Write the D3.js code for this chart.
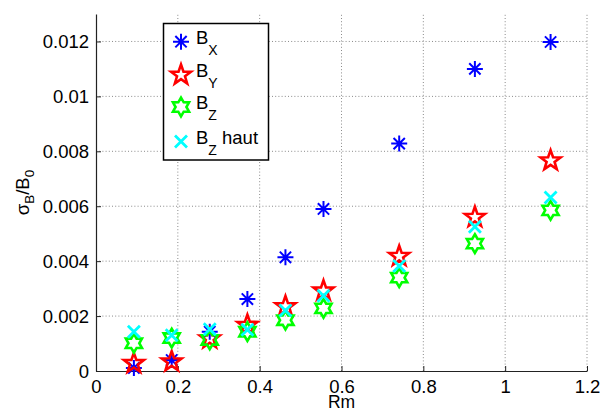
<!DOCTYPE html>
<html>
<head>
<meta charset="utf-8">
<script src="https://cdn.jsdelivr.net/npm/d3@7"></script>
<style>
  html, body { margin: 0; padding: 0; background: #fff; }
  svg { display: block; font-family: "Liberation Sans", Arial, Helvetica, sans-serif; }
</style>
</head>
<body>
<svg id="chart" width="602" height="411"></svg>
<script>
// ---- data ----
const rm = [0.0926, 0.185, 0.278, 0.370, 0.463, 0.556, 0.741, 0.926, 1.111];
const bx = [0.00011, 0.00040, 0.00143, 0.00262, 0.00414, 0.00590, 0.00828, 0.01100, 0.01198];
const by = [0.00028, 0.00034, 0.00118, 0.00167, 0.00235, 0.00292, 0.00418, 0.00560, 0.00766];
const bz = [0.00101, 0.00120, 0.00113, 0.00143, 0.00185, 0.00228, 0.00340, 0.00464, 0.00585];
const bzh = [0.00143, 0.00130, 0.00152, 0.00150, 0.00220, 0.00274, 0.00382, 0.00525, 0.00632];
const xTicks = [0, 0.2, 0.4, 0.6, 0.8, 1.0, 1.2];
const xTickLabels = ["0", "0.2", "0.4", "0.6", "0.8", "1", "1.2"];
const yTicks = [0, 0.002, 0.004, 0.006, 0.008, 0.010, 0.012];
const yTickLabels = ["0", "0.002", "0.004", "0.006", "0.008", "0.01", "0.012"];
const seriesNames = ["X", "Y", "Z", "Z"];
const seriesSuffix = ["", "", "", " haut"];
const xDomain = [0, 1.2];
const yDomain = [0, 0.013];

// ---- layout ----
const L = 96, R = 587, T = 14, B = 371;
const svg = d3.select("#chart");
const x = d3.scaleLinear().domain(xDomain).range([L, R]);
const y = d3.scaleLinear().domain(yDomain).range([B, T]);

// grid
const grid = svg.append("g");
grid.selectAll("line.vx").data(xTicks.filter(d => d > 0)).enter().append("line")
  .attr("x1", d => x(d)).attr("x2", d => x(d)).attr("y1", B).attr("y2", T)
  .attr("stroke", "#8a8a8a").attr("stroke-width", 1).attr("stroke-dasharray", "1,2.2");
grid.selectAll("line.hy").data(yTicks.filter(d => d > 0)).enter().append("line")
  .attr("y1", d => y(d)).attr("y2", d => y(d)).attr("x1", L).attr("x2", R)
  .attr("stroke", "#8a8a8a").attr("stroke-width", 1).attr("stroke-dasharray", "1,2.2");

// axes
const xAxis = d3.axisBottom(x).tickValues(xTicks).tickFormat((d, i) => xTickLabels[i])
  .tickSizeInner(-5).tickSizeOuter(0).tickPadding(12);
const yAxis = d3.axisLeft(y).tickValues(yTicks).tickFormat((d, i) => yTickLabels[i])
  .tickSizeInner(-5).tickSizeOuter(0).tickPadding(12);
const gx = svg.append("g").attr("transform", `translate(0,${B})`).call(xAxis);
const gy = svg.append("g").attr("transform", `translate(${L},0)`).call(yAxis);
[gx, gy].forEach(g => {
  g.select(".domain").attr("stroke", "#222").attr("stroke-width", 1.2);
  g.selectAll(".tick line").attr("stroke", "#222");
  g.selectAll(".tick text").attr("font-size", 18.5).attr("fill", "#000")
    .attr("font-family", "Liberation Sans, Arial, sans-serif");
});
gx.selectAll(".tick text").attr("dy", "0.71em").attr("y", 8.5);
gy.selectAll(".tick text").attr("x", -7).attr("dy", "0.35em");

// axis labels
svg.append("text").attr("x", (L + R) / 2).attr("y", 407.5).attr("text-anchor", "middle")
  .attr("font-size", 17.5).text("Rm");
const yl = svg.append("text").attr("transform", `translate(29,${(T + B) / 2}) rotate(-90)`)
  .attr("text-anchor", "middle").attr("font-size", 18.5);
yl.append("tspan").text("σ");
yl.append("tspan").attr("font-size", 13.5).attr("dy", 5).text("B");
yl.append("tspan").attr("dy", -5).text("/B");
yl.append("tspan").attr("font-size", 13.5).attr("dy", 5).text("0");

// marker paths
function asterisk(r) {
  const d = r * Math.SQRT1_2;
  return `M${-r},0L${r},0M0,${-r}L0,${r}M${-d},${-d}L${d},${d}M${-d},${d}L${d},${-d}`;
}
function starPath(n, ro, ri) {
  let p = "";
  for (let k = 0; k < 2 * n; k++) {
    const a = -Math.PI / 2 + k * Math.PI / n;
    const rr = k % 2 === 0 ? ro : ri;
    p += (k === 0 ? "M" : "L") + (rr * Math.cos(a)).toFixed(2) + "," + (rr * Math.sin(a)).toFixed(2);
  }
  return p + "Z";
}
function cross(r) { return `M${-r},${-r}L${r},${r}M${-r},${r}L${r},${-r}`; }

const styles = [
  { vals: bx, path: asterisk(8), color: "#0000ff", sw: 2 },
  { vals: by, path: starPath(5, 10.5, 4.2), color: "#ff0000", sw: 2.6 },
  { vals: bz, path: starPath(6, 9.3, 5.4), color: "#00ff00", sw: 2.6 },
  { vals: bzh, path: cross(6), color: "#00ffff", sw: 2.8 }
];

styles.forEach(s => {
  svg.append("g").selectAll("path").data(rm).enter().append("path")
    .attr("transform", (d, i) => `translate(${x(d)},${y(s.vals[i])})`)
    .attr("d", s.path).attr("fill", "none").attr("stroke", s.color)
    .attr("stroke-width", s.sw).attr("stroke-linejoin", "miter");
});

// legend
const lg = svg.append("g");
lg.append("rect").attr("x", 163.5).attr("y", 23.5).attr("width", 105).attr("height", 136.5)
  .attr("fill", "#fff").attr("stroke", "#000").attr("stroke-width", 1.5);
const rowsY = [41.7, 75, 107, 141.5];
styles.forEach((s, i) => {
  lg.append("path").attr("transform", `translate(181,${rowsY[i]})`).attr("d", s.path)
    .attr("fill", "none").attr("stroke", s.color).attr("stroke-width", s.sw);
  const t = lg.append("text").attr("x", 196).attr("y", rowsY[i] + 2).attr("font-size", 18.5);
  t.append("tspan").text("B");
  t.append("tspan").attr("font-size", 14).attr("dy", 11).text(seriesNames[i]);
  if (seriesSuffix[i]) t.append("tspan").attr("dy", -11).text(seriesSuffix[i]);
});
</script>
</body>
</html>
